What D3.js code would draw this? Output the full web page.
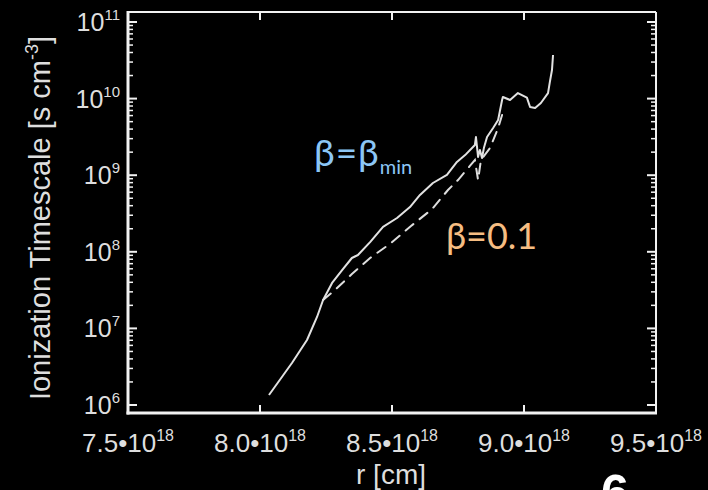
<!DOCTYPE html>
<html>
<head>
<meta charset="utf-8">
<script src="https://cdn.jsdelivr.net/npm/d3@7"></script>
<style>
  html, body { margin: 0; padding: 0; background: #000; }
  svg { display: block; }
</style>
</head>
<body>
<svg id="chart" width="708" height="490"></svg>
<script>
// Radius in units of 10^18 cm
const xTickValues = [7.5, 8.0, 8.5, 9.0, 9.5];
const xTickLabels = ["7.5•10", "8.0•10", "8.5•10", "9.0•10", "9.5•10"];
const xTickExponent = "18";
const yExponents = [6, 7, 8, 9, 10, 11];

// beta = beta_min (solid)
const rMin = [8.034, 8.121, 8.178, 8.216, 8.239, 8.273, 8.311, 8.348, 8.371, 8.417,
              8.466, 8.519, 8.568, 8.606, 8.655, 8.708, 8.746, 8.777, 8.814, 8.818,
              8.826, 8.833, 8.841, 8.848, 8.860, 8.883, 8.902, 8.917, 8.920, 8.947,
              8.977, 9.011, 9.023, 9.042, 9.064, 9.091, 9.098, 9.106, 9.110];
const tauMin = [1.35e6, 3.53e6, 7.06e6, 1.41e7, 2.35e7, 3.92e7, 5.78e7, 8.3e7, 9.08e7, 1.34e8,
                2.11e8, 2.76e8, 3.84e8, 5.52e8, 7.91e8, 1.01e9, 1.49e9, 1.83e9, 2.48e9, 3.15e9,
                1.73e9, 2.13e9, 1.68e9, 2.26e9, 3.15e9, 4.13e9, 5.26e9, 9.6e9, 1.05e10, 9.6e9,
                1.18e10, 1.03e10, 7.76e9, 7.53e9, 8.77e9, 1.18e10, 1.65e10, 2.36e10, 3.71e10];

// beta = 0.1 (dashed)
const rLow = [8.239, 8.284, 8.348, 8.417, 8.492, 8.572, 8.652, 8.712, 8.750, 8.795,
              8.814, 8.826, 8.837, 8.871, 8.902, 8.917];
const tauLow = [2.35e7, 3.17e7, 5.13e7, 8.3e7, 1.27e8, 2.17e8, 3.62e8, 6.41e8, 8.65e8, 1.32e9,
                1.58e9, 8.65e8, 1.58e9, 2.26e9, 4.13e9, 6.1e9];

const svg = d3.select("#chart");
const x = d3.scaleLinear().domain([7.5, 9.5]).range([128, 656]);
const y = d3.scaleLog().domain([1e6, 1e11]).range([405, 22]);

const frameLeft = x(7.5), frameRight = x(9.5);
const frameTop = y(1e11) - 10, frameBottom = y(1e6) + 8;
const axisColor = "#f2f2f2";
const textColor = "#dedede";

// Minor and major y tick positions
const yMajor = yExponents.map(e => Math.pow(10, e));
const yMinor = [];
yExponents.slice(0, -1).forEach(e => {
  for (let m = 2; m <= 9; m++) yMinor.push(m * Math.pow(10, e));
});

const ticks = svg.append("g").attr("stroke", axisColor);
// left / right y ticks (pointing inward)
[[frameLeft, 1], [frameRight, -1]].forEach(([x0, dir]) => {
  ticks.selectAll(null).data(yMajor).join("line")
    .attr("x1", x0).attr("x2", x0 + dir * 9)
    .attr("y1", d => y(d)).attr("y2", d => y(d))
    .attr("stroke-width", 2);
  ticks.selectAll(null).data(yMinor).join("line")
    .attr("x1", x0).attr("x2", x0 + dir * 5)
    .attr("y1", d => y(d)).attr("y2", d => y(d))
    .attr("stroke-width", 1.5);
});
// bottom / top x ticks
[[frameBottom, -1], [frameTop, 1]].forEach(([y0, dir]) => {
  ticks.selectAll(null).data(xTickValues.slice(1, -1)).join("line")
    .attr("x1", d => x(d)).attr("x2", d => x(d))
    .attr("y1", y0).attr("y2", y0 + dir * 8)
    .attr("stroke-width", 2);
});

// frame
const frame = svg.append("g").attr("fill", "none").attr("stroke", axisColor);
frame.append("line").attr("x1", frameLeft).attr("x2", frameRight)
  .attr("y1", frameTop).attr("y2", frameTop).attr("stroke-width", 2);
frame.append("line").attr("x1", frameRight).attr("x2", frameRight)
  .attr("y1", frameTop).attr("y2", frameBottom).attr("stroke-width", 2);
frame.append("line").attr("x1", frameLeft).attr("x2", frameLeft)
  .attr("y1", frameTop - 1).attr("y2", frameBottom + 1.5).attr("stroke-width", 3);
frame.append("line").attr("x1", frameLeft - 1.5).attr("x2", frameRight + 1)
  .attr("y1", frameBottom).attr("y2", frameBottom).attr("stroke-width", 3);

// curves
const line = d3.line().x(d => x(d[0])).y(d => y(d[1]));
svg.append("path")
  .datum(rLow.map((r, i) => [r, tauLow[i]]))
  .attr("d", line)
  .attr("fill", "none").attr("stroke", "#dedede").attr("stroke-width", 2)
  .attr("stroke-dasharray", "10,8").attr("stroke-linecap", "round");
svg.append("path")
  .datum(rMin.map((r, i) => [r, tauMin[i]]))
  .attr("d", line)
  .attr("fill", "none").attr("stroke", "#e2e2e2").attr("stroke-width", 2)
  .attr("stroke-linejoin", "round");

// tick labels
const font = "'Liberation Sans', Arial, Helvetica, sans-serif";
const yl = svg.append("g").attr("fill", textColor).attr("font-family", font);
yExponents.forEach(e => {
  const t = yl.append("text").attr("x", 120).attr("y", y(Math.pow(10, e)) + 9)
    .attr("text-anchor", "end").attr("font-size", 25);
  t.append("tspan").text("10");
  t.append("tspan").attr("dy", -11).attr("font-size", 15).text(e);
});
const xl = svg.append("g").attr("fill", textColor).attr("font-family", font);
xTickValues.forEach((v, i) => {
  const t = xl.append("text").attr("x", x(v)).attr("y", 452)
    .attr("text-anchor", "middle").attr("font-size", 26);
  t.append("tspan").text(xTickLabels[i]);
  t.append("tspan").attr("dy", -11).attr("font-size", 16).text(xTickExponent);
});

// axis titles
const yt = svg.append("text")
  .attr("transform", "translate(50,218) rotate(-90)")
  .attr("text-anchor", "middle").attr("fill", textColor)
  .attr("font-family", font).attr("font-size", 29);
yt.append("tspan").text("Ionization Timescale [s cm");
yt.append("tspan").attr("dy", -12).attr("font-size", 18).text("-3");
yt.append("tspan").attr("dy", 12).text("]");

svg.append("text").attr("x", 391).attr("y", 484)
  .attr("text-anchor", "middle").attr("fill", textColor)
  .attr("font-family", font).attr("font-size", 28).text("r [cm]");

// series annotations
const lab = "Lato, 'Open Sans', sans-serif";
const b1 = svg.append("text").attr("x", 314).attr("y", 166)
  .attr("fill", "#8cc6f6").attr("font-family", lab);
b1.append("tspan").attr("font-size", 37).attr("letter-spacing", 1).text("β=β");
b1.append("tspan").attr("dy", 8).attr("font-size", 20).text("min");

svg.append("text").attr("x", 446).attr("y", 249)
  .attr("fill", "#f6bd82").attr("font-family", lab).attr("font-size", 36)
  .text("β=0.1");

// panel number
svg.append("text").attr("x", 615).attr("y", 510)
  .attr("text-anchor", "middle").attr("fill", "#ffffff")
  .attr("font-family", font).attr("font-weight", "bold").attr("font-size", 50)
  .text("6");
</script>
</body>
</html>
